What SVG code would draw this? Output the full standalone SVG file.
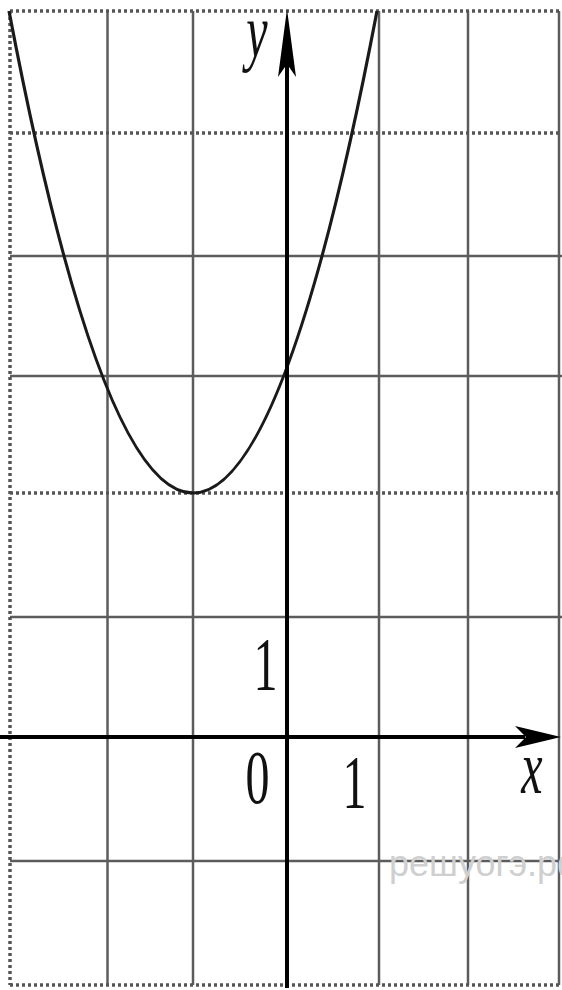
<svg xmlns="http://www.w3.org/2000/svg" width="562" height="990" viewBox="0 0 562 990">
  <style>
    .grid { stroke: #5c5c5c; stroke-width: 2.5; fill: none; }
    .dot { stroke: #555; stroke-width: 3.5; stroke-dasharray: 3 3; fill: none; }
    .axis { stroke: #000; stroke-width: 4; fill: none; }
    .curve { stroke: #1a1a1a; stroke-width: 3.2; fill: none; }
    .lbl { font-family: "Liberation Serif", "Times New Roman", serif; font-size: 48px; fill: #111; text-anchor: middle; }
    .it { font-style: italic; }
    .wm { font-family: "Liberation Sans", Arial, sans-serif; font-size: 36px; fill: #cfcfcf; }
  </style>
  <rect width="562" height="990" fill="#fff"/>
  <g id="grid">
    <line class="grid" x1="107.5" y1="11" x2="107.5" y2="985"/>
    <line class="grid" x1="193" y1="11" x2="193" y2="985"/>
    <line class="grid" x1="379" y1="11" x2="379" y2="985"/>
    <line class="grid" x1="468" y1="11" x2="468" y2="985"/>
    <line class="grid" x1="559" y1="11" x2="559" y2="985"/>
    <line class="grid" x1="10" y1="256" x2="562" y2="256"/>
    <line class="grid" x1="10" y1="376" x2="562" y2="376"/>
    <line class="grid" x1="10" y1="617" x2="562" y2="617"/>
    <line class="grid" x1="10" y1="861" x2="562" y2="861"/>
    <line class="dot" x1="10" y1="11" x2="562" y2="11"/>
    <line class="dot" x1="10" y1="133" x2="562" y2="133"/>
    <line class="dot" x1="10" y1="493" x2="562" y2="493"/>
    <line class="dot" x1="10" y1="985" x2="562" y2="985"/>
    <line class="dot" x1="10" y1="11" x2="10" y2="985"/>
  </g>
  <text class="wm" x="389" y="876">решуогэ.рф</text>
  <g id="curve">
    <path class="curve" d="M 9 11 Q 193 975 377 11"/>
  </g>
  <g id="axes">
    <line class="axis" x1="287" y1="988" x2="287" y2="60"/>
    <polygon points="287,9 296,77 287,64 278,77" fill="#000"/>
    <line class="axis" x1="0" y1="737" x2="525" y2="737"/>
    <polygon points="561,737 515,726 526,737 515,748" fill="#000"/>
  </g>
  <g id="labels">
    <text class="lbl it" transform="translate(257,57) scale(1,1.6)">y</text>
    <text class="lbl it" transform="translate(532,793) scale(1,1.6)">x</text>
    <text class="lbl" transform="translate(265.5,690) scale(1,1.6)">1</text>
    <text class="lbl" transform="translate(257.5,803) scale(1,1.6)">0</text>
    <text class="lbl" transform="translate(354.5,808) scale(1,1.6)">1</text>
  </g>
</svg>
